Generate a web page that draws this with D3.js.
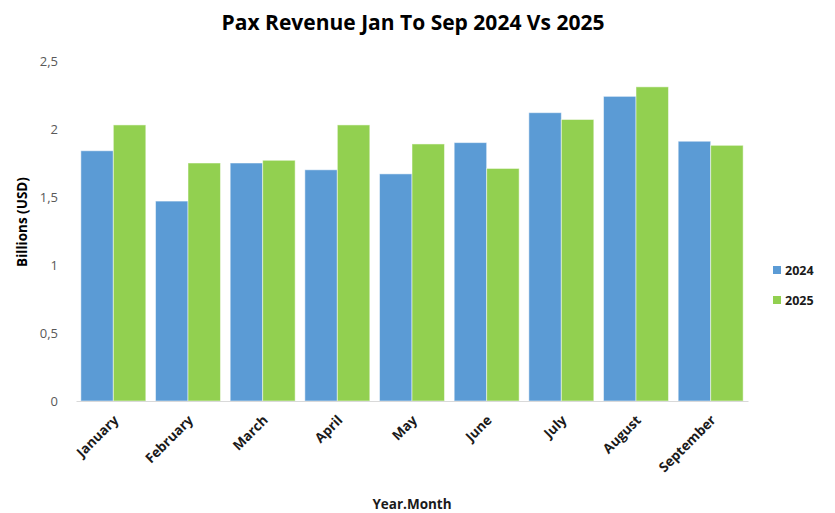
<!DOCTYPE html>
<html>
<head>
<meta charset="utf-8">
<script src="https://cdn.jsdelivr.net/npm/d3@7"></script>
<style>
  body { margin: 0; background: #fff; }
  text { font-family: "Open Sans", "Liberation Sans", sans-serif; }
</style>
</head>
<body>
<div id="chart"></div>
<script>
let months = ["January", "February", "March", "April", "May", "June", "July", "August", "September"];
let years = ["2024", "2025"];
let rev2024 = [1.84, 1.47, 1.75, 1.70, 1.67, 1.90, 2.12, 2.24, 1.91];
let rev2025 = [2.03, 1.75, 1.77, 2.03, 1.89, 1.71, 2.07, 2.31, 1.88];
let yTicks = [0, 0.5, 1, 1.5, 2, 2.5];

let colors = {"2024": "#5b9bd5", "2025": "#92d050"};

let svg = d3.select("#chart").append("svg")
  .attr("width", 835)
  .attr("height", 513);

let margin = {top: 61, right: 87, bottom: 112, left: 76};
let width = 835 - margin.left - margin.right;
let height = 513 - margin.top - margin.bottom;

let g = svg.append("g")
  .attr("transform", "translate(" + margin.left + "," + margin.top + ")");

let data = months.map(function(m, i) {
  return {month: m, "2024": rev2024[i], "2025": rev2025[i]};
});

let x0 = d3.scaleBand()
  .domain(months)
  .range([0, width])
  .paddingInner(0.13)
  .paddingOuter(0.065);

let x1 = d3.scaleBand()
  .domain(years)
  .range([0, x0.bandwidth()]);

let y = d3.scaleLinear()
  .domain([0, 2.5])
  .range([height, 0]);

// bars
g.selectAll("g.month")
  .data(data)
  .enter().append("g")
  .attr("class", "month")
  .attr("transform", function(d) { return "translate(" + x0(d.month) + ",0)"; })
  .selectAll("rect")
  .data(function(d) { return years.map(function(k) { return {key: k, value: d[k]}; }); })
  .enter().append("rect")
  .attr("x", function(d) { return x1(d.key); })
  .attr("y", function(d) { return y(d.value); })
  .attr("width", x1.bandwidth())
  .attr("height", function(d) { return height - y(d.value); })
  .attr("fill", function(d) { return colors[d.key]; })
  .attr("stroke", "#ffffff")
  .attr("stroke-opacity", 0.5)
  .attr("stroke-width", 1);

// y axis
let yAxis = d3.axisLeft(y)
  .tickValues(yTicks)
  .tickSize(0)
  .tickPadding(18)
  .tickFormat(function(d) { return String(d).replace(".", ","); });

let yg = g.append("g").call(yAxis);
yg.select(".domain").remove();
yg.selectAll("text")
  .attr("fill", "#595959")
  .style("font-size", "13px")
  .style("font-family", "'Open Sans', sans-serif");

// x axis
let xAxis = d3.axisBottom(x0).tickSize(0).tickPadding(0);
let xg = g.append("g")
  .attr("transform", "translate(0," + height + ")")
  .call(xAxis);
xg.select(".domain").attr("stroke", "#d9d9d9");
xg.selectAll("text")
  .attr("fill", "#1a1a1a")
  .style("font-size", "13.5px")
  .style("font-weight", "bold")
  .style("font-family", "'Open Sans', sans-serif")
  .attr("text-anchor", "end")
  .attr("dy", 0)
  .attr("transform", "translate(6,20) rotate(-45)");

// title
svg.append("text")
  .attr("x", 413)
  .attr("y", 30)
  .attr("text-anchor", "middle")
  .style("font-size", "21px")
  .style("font-weight", "bold")
  .attr("fill", "#000")
  .text("Pax Revenue Jan To Sep 2024 Vs 2025");

// axis titles
svg.append("text")
  .attr("transform", "translate(27,222) rotate(-90)")
  .attr("text-anchor", "middle")
  .style("font-size", "13.5px")
  .style("font-weight", "bold")
  .attr("fill", "#000")
  .text("Billions (USD)");

svg.append("text")
  .attr("x", 412)
  .attr("y", 509)
  .attr("text-anchor", "middle")
  .style("font-size", "13.5px")
  .style("font-weight", "bold")
  .attr("fill", "#1a1a1a")
  .text("Year.Month");

// legend
let legend = svg.append("g")
  .attr("transform", "translate(773,266)");

legend.selectAll("g")
  .data(years)
  .enter().append("g")
  .attr("transform", function(d, i) { return "translate(0," + (i * 30) + ")"; })
  .each(function(d) {
    let item = d3.select(this);
    item.append("rect")
      .attr("width", 8)
      .attr("height", 8)
      .attr("fill", colors[d]);
    item.append("text")
      .attr("x", 12)
      .attr("y", 9)
      .style("font-size", "12.5px")
      .style("font-weight", "bold")
      .attr("fill", "#1a1a1a")
      .text(d);
  });
</script>
</body>
</html>
